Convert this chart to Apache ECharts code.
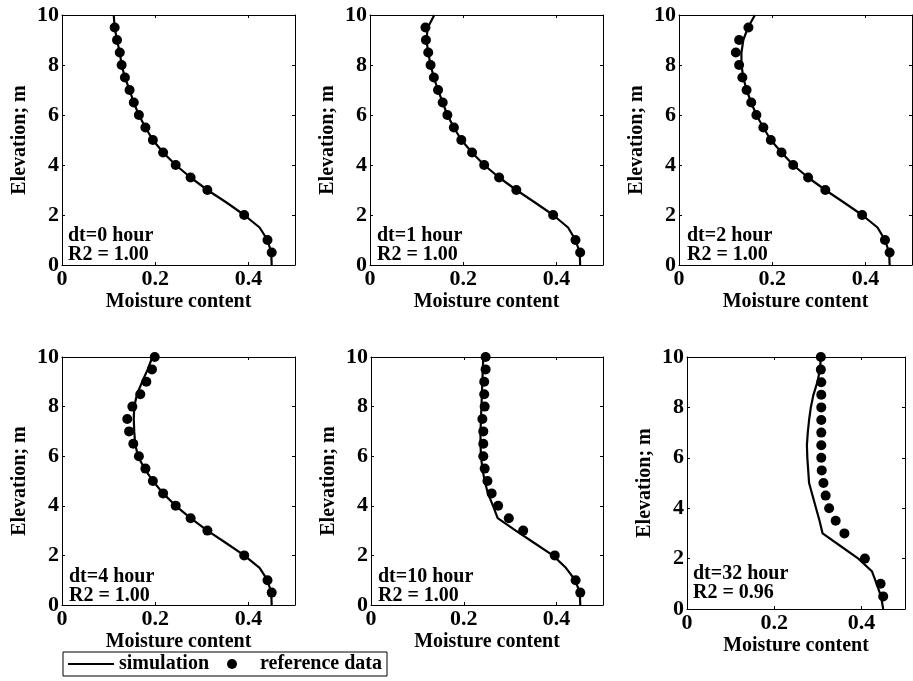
<!DOCTYPE html>
<html>
<head>
<meta charset="utf-8">
<script src="https://cdn.jsdelivr.net/npm/echarts@6/dist/echarts.min.js"></script>
<style>
html,body{margin:0;padding:0;background:#fff;}
#c{width:913px;height:681px;}
</style>
</head>
<body>
<div id="c"></div>
<script>
// ---------- data ----------
const simElev = [0,0.5,1,1.5,2,2.5,3,3.5,4,4.5,5,5.5,6,6.5,7,7.5,8,8.5,9,9.5,10];
const refElevTop = [0.5,1,2,3,3.5,4,4.5,5,5.5,6,6.5,7,7.5,8,8.5,9,9.5];
const refElevBottom = [0.5,1,2,3,3.5,4,4.5,5,5.5,6,6.5,7,7.5,8,8.5,9,9.5,10];

const sim0  = [0.450,0.449,0.441,0.424,0.391,0.353,0.312,0.276,0.244,0.217,0.195,0.179,0.165,0.154,0.145,0.135,0.128,0.124,0.118,0.113,0.111];
const ref0  = [0.450,0.441,0.391,0.312,0.276,0.244,0.217,0.195,0.179,0.165,0.154,0.145,0.135,0.128,0.124,0.118,0.113];

const sim1  = [0.451,0.450,0.441,0.425,0.393,0.354,0.314,0.277,0.245,0.219,0.196,0.180,0.166,0.156,0.146,0.137,0.130,0.125,0.121,0.124,0.138];
const ref1  = [0.451,0.441,0.393,0.314,0.277,0.245,0.219,0.196,0.180,0.166,0.156,0.146,0.137,0.130,0.125,0.120,0.119];

const sim2  = [0.452,0.451,0.442,0.426,0.393,0.354,0.314,0.277,0.245,0.220,0.197,0.181,0.166,0.155,0.145,0.138,0.134,0.134,0.138,0.148,0.163];
const ref2  = [0.452,0.442,0.393,0.314,0.277,0.245,0.220,0.197,0.181,0.166,0.155,0.145,0.136,0.129,0.122,0.129,0.149];

const sim4  = [0.450,0.449,0.441,0.424,0.391,0.352,0.312,0.276,0.244,0.217,0.195,0.177,0.163,0.157,0.155,0.154,0.155,0.161,0.172,0.184,0.194];
const ref4  = [0.450,0.441,0.391,0.312,0.276,0.244,0.217,0.195,0.179,0.165,0.153,0.144,0.140,0.151,0.168,0.181,0.193,0.199];

const sim10 = [0.451,0.450,0.440,0.420,0.392,0.352,0.312,0.273,0.263,0.252,0.245,0.240,0.237,0.236,0.236,0.237,0.238,0.239,0.240,0.241,0.242];
const ref10 = [0.451,0.441,0.396,0.328,0.297,0.274,0.260,0.251,0.245,0.242,0.242,0.242,0.240,0.245,0.244,0.244,0.247,0.247];

const sim32 = [0.450,0.445,0.435,0.424,0.393,0.352,0.311,0.304,0.296,0.288,0.280,0.278,0.276,0.275,0.277,0.280,0.284,0.290,0.299,0.305,0.307];
const ref32 = [0.450,0.444,0.408,0.361,0.341,0.326,0.318,0.313,0.309,0.308,0.308,0.308,0.308,0.308,0.308,0.308,0.307,0.307];

const panelLabels = ["dt=0 hour\nR2 = 1.00","dt=1 hour\nR2 = 1.00","dt=2 hour\nR2 = 1.00",
                     "dt=4 hour\nR2 = 1.00","dt=10 hour\nR2 = 1.00","dt=32 hour\nR2 = 0.96"];
const xTicks = {min:0, max:0.5, interval:0.2};
const yTicks = {min:0, max:10, interval:2};
const xName = "Moisture content";
const yName = "Elevation; m";
const seriesNames = ["simulation","reference data"];

// ---------- layout ----------
const panels = [
  {sim:sim0,  ref:ref0,  refE:refElevTop,    g:{left:62, top:15, width:233, height:250}, t:{left:68, top:226}},
  {sim:sim1,  ref:ref1,  refE:refElevTop,    g:{left:370,top:15, width:233, height:250}, t:{left:377,top:226}},
  {sim:sim2,  ref:ref2,  refE:refElevTop,    g:{left:679,top:15, width:233, height:250}, t:{left:687,top:226}},
  {sim:sim4,  ref:ref4,  refE:refElevBottom, g:{left:62, top:357,width:233, height:248}, t:{left:69, top:567}},
  {sim:sim10, ref:ref10, refE:refElevBottom, g:{left:371,top:357,width:232, height:248}, t:{left:378,top:567}},
  {sim:sim32, ref:ref32, refE:refElevBottom, g:{left:687,top:357,width:218, height:252}, t:{left:693,top:564}}
];

const FONT = "Liberation Serif";
const txt = {fontFamily:FONT, fontWeight:'bold', fontSize:20, color:'#000'};
const tickTxt = {fontFamily:FONT, fontWeight:'bold', fontSize:22, color:'#000'};
const axLine = {show:true, onZero:false, lineStyle:{color:'#000', width:1}};
const axTick = {show:true, inside:true, length:3, lineStyle:{color:'#000', width:1}};

const grid=[], xAxis=[], yAxis=[], series=[], title=[];
panels.forEach((p,i)=>{
  grid.push(Object.assign({containLabel:false, show:false}, p.g));
  xAxis.push({type:'value', gridIndex:i, position:'bottom', min:xTicks.min, max:xTicks.max, interval:xTicks.interval,
    name:xName, nameLocation:'middle', nameGap:27, nameTextStyle:txt,
    axisLine:axLine, axisTick:axTick, splitLine:{show:false},
    axisLabel:Object.assign({margin:3, showMaxLabel:false, formatter:v=>String(Math.round(v*10)/10)}, tickTxt)});
  xAxis.push({type:'value', gridIndex:i, position:'top', min:xTicks.min, max:xTicks.max, interval:xTicks.interval,
    axisLine:axLine, axisTick:axTick, splitLine:{show:false}, axisLabel:{show:false}});
  yAxis.push({type:'value', gridIndex:i, position:'left', min:yTicks.min, max:yTicks.max, interval:yTicks.interval,
    name:yName, nameLocation:'middle', nameGap:32, nameTextStyle:txt,
    axisLine:axLine, axisTick:axTick, splitLine:{show:false},
    axisLabel:Object.assign({margin:3}, tickTxt)});
  yAxis.push({type:'value', gridIndex:i, position:'right', min:yTicks.min, max:yTicks.max, interval:yTicks.interval,
    axisLine:axLine, axisTick:axTick, splitLine:{show:false}, axisLabel:{show:false}});
  series.push({name:seriesNames[0], type:'line', xAxisIndex:2*i, yAxisIndex:2*i, symbol:'none',
    lineStyle:{color:'#000', width:2.2}, itemStyle:{color:'#000'}, z:2,
    data:p.sim.map((v,k)=>[v, simElev[k]])});
  series.push({name:seriesNames[1], type:'scatter', xAxisIndex:2*i, yAxisIndex:2*i, symbol:'circle', symbolSize:10,
    itemStyle:{color:'#000', opacity:1}, z:3,
    data:p.ref.map((v,k)=>[v, p.refE[k]])});
  title.push({text:panelLabels[i], left:p.t.left, top:p.t.top, padding:0,
    textStyle:Object.assign({lineHeight:19}, txt)});
});

const chart = echarts.init(document.getElementById('c'), null, {renderer:'canvas'});
chart.setOption({
  animation:false,
  backgroundColor:'#fff',
  title, grid, xAxis, yAxis, series,
  legend:{data:[{name:seriesNames[0], icon:'path://M0 0H46V2.2H0Z'},{name:seriesNames[1], icon:'circle'}],
    left:63, top:652, orient:'horizontal', padding:[2,5], itemGap:18,
    itemWidth:46, itemHeight:10, borderColor:'#000', borderWidth:1, borderRadius:0,
    itemStyle:{color:'#000', opacity:1},
    textStyle:Object.assign({}, txt, {padding:[0,0,0,0]}),
    selectedMode:false}
});
</script>
</body>
</html>
